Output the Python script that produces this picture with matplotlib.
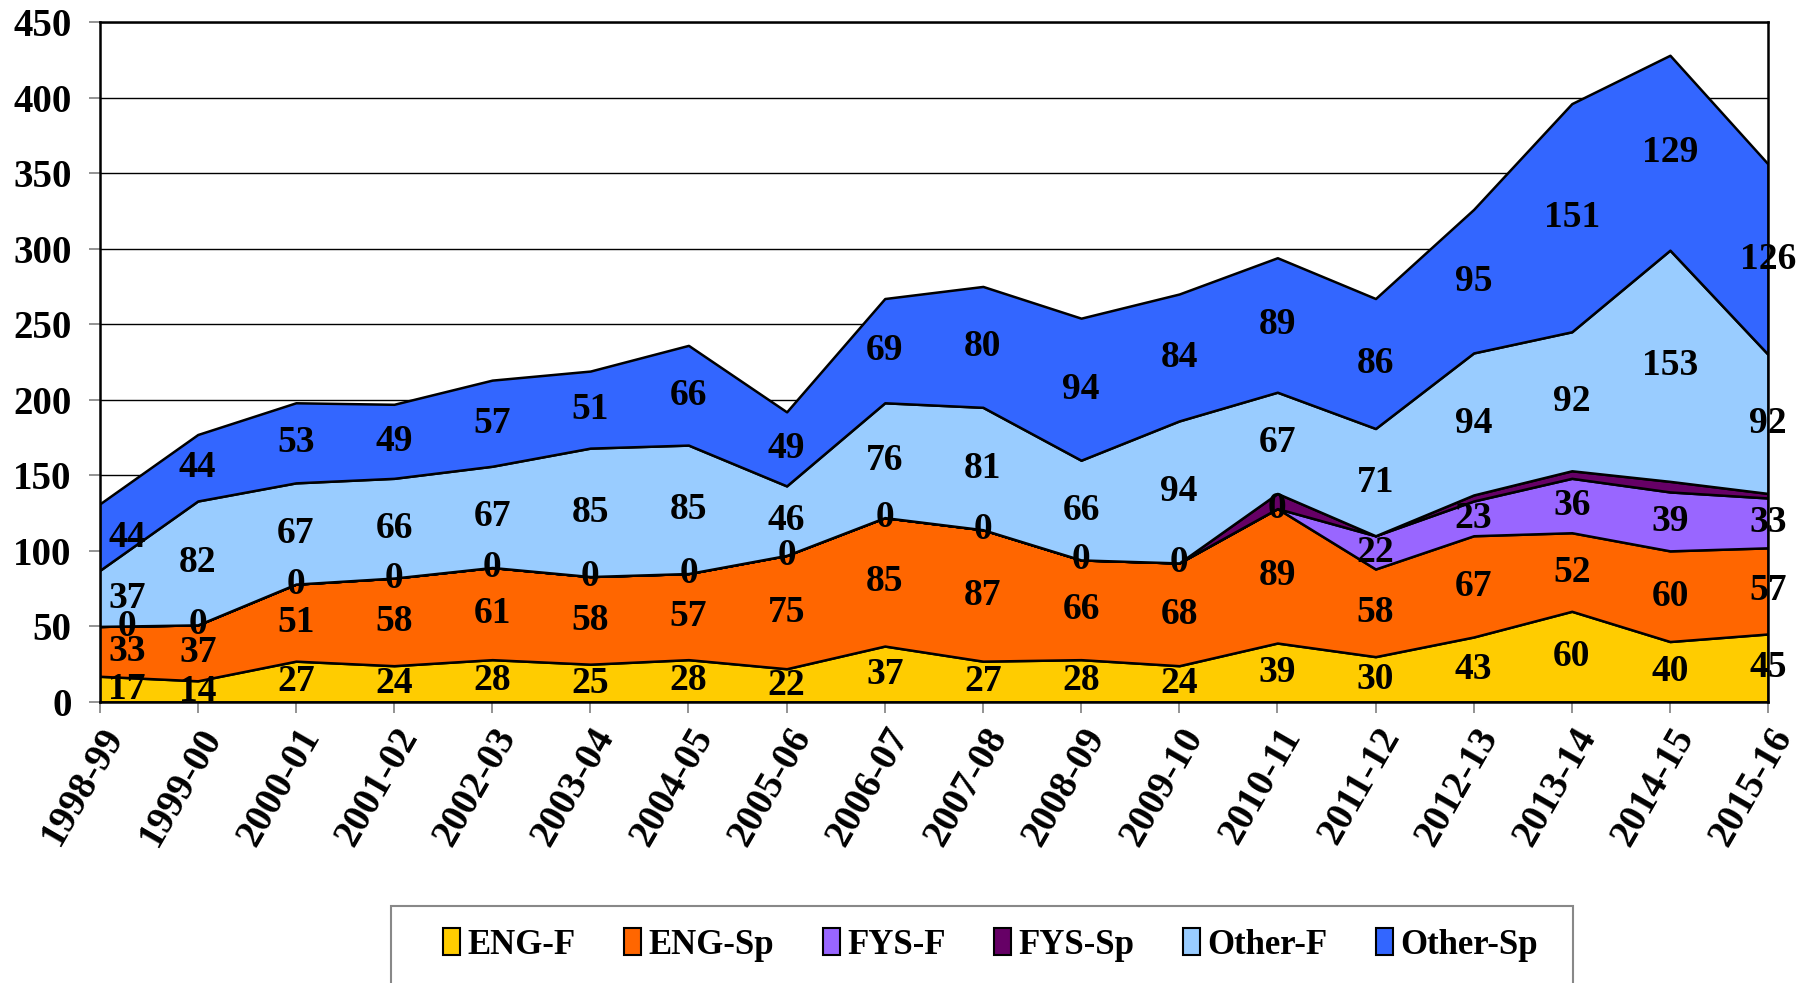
import matplotlib
matplotlib.use("Agg")
import matplotlib.pyplot as plt
from matplotlib.patches import Rectangle, Patch
import numpy as np

years = ["1998-99", "1999-00", "2000-01", "2001-02", "2002-03", "2003-04", "2004-05",
         "2005-06", "2006-07", "2007-08", "2008-09", "2009-10", "2010-11", "2011-12",
         "2012-13", "2013-14", "2014-15", "2015-16"]
eng_f = [17, 14, 27, 24, 28, 25, 28, 22, 37, 27, 28, 24, 39, 30, 43, 60, 40, 45]
eng_sp = [33, 37, 51, 58, 61, 58, 57, 75, 85, 87, 66, 68, 89, 58, 67, 52, 60, 57]
fys_f = [0, 0, 0, 0, 0, 0, 0, 0, 0, 0, 0, 0, 0, 22, 23, 36, 39, 33]
fys_sp = [0, 0, 0, 0, 0, 0, 0, 0, 0, 0, 0, 0, 10, 0, 4, 5, 7, 3]
other_f = [37, 82, 67, 66, 67, 85, 85, 46, 76, 81, 66, 94, 67, 71, 94, 92, 153, 92]
other_sp = [44, 44, 53, 49, 57, 51, 66, 49, 69, 80, 94, 84, 89, 86, 95, 151, 129, 126]

series_names = ["ENG-F", "ENG-Sp", "FYS-F", "FYS-Sp", "Other-F", "Other-Sp"]
colors = ["#FFCC00", "#FF6600", "#9966FF", "#660066", "#99CCFF", "#3366FF"]
show_labels = [True, True, True, False, True, True]

plt.rcParams['font.family'] = ['Liberation Serif', 'DejaVu Serif']
plt.rcParams['font.weight'] = 'bold'

fig = plt.figure(figsize=(18.14, 9.83), dpi=100)
ax = fig.add_axes([0.0549, 0.2859, 0.9198, 0.6917])

data = [eng_f, eng_sp, fys_f, fys_sp, other_f, other_sp]
x = np.arange(len(years))
ax.stackplot(x, *data, colors=colors, edgecolor='black', linewidth=1.8, zorder=2)

ax.set_ylim(0, 450)
ax.set_xlim(0, len(years) - 1)
ax.set_yticks(range(0, 451, 50))
ax.yaxis.grid(True, color='black', linewidth=1.0, zorder=1)
ax.set_axisbelow(True)
ax.set_xticks(x)
ax.set_xticklabels(years, rotation=60, ha='right', rotation_mode='anchor', fontsize=28, fontweight='bold')
for lab in ax.get_yticklabels():
    lab.set_fontsize(28)
    lab.set_fontweight('bold')
ax.tick_params(axis='x', length=8, width=1.2, color='gray', pad=6, direction='out')
ax.tick_params(axis='y', length=8, width=1.2, color='gray', pad=12, direction='out')
for s in ax.spines.values():
    s.set_linewidth(1.8)
    s.set_color('black')

cum = np.zeros(len(years))
for vals, show in zip(data, show_labels):
    vals = np.array(vals, dtype=float)
    mid = cum + vals / 2
    if show:
        for i in range(len(years)):
            xpos = x[i] + (0.28 if i == 0 else 0.0)
            ax.text(xpos, mid[i], str(int(vals[i])), ha='center', va='center',
                    fontsize=27, fontweight='bold', color='black', zorder=5, clip_on=False)
    cum = cum + vals

rect = Rectangle((0.2155, -0.05), 0.6515, 0.128, transform=fig.transFigure,
                 facecolor='white', edgecolor='#888888', linewidth=1.5, zorder=0)
fig.patches.append(rect)
handles = [Patch(facecolor=c, edgecolor='black', linewidth=1.5) for c in colors]
leg = fig.legend(handles, series_names, loc='center', bbox_to_anchor=(0.546, 0.0387),
                 ncol=6, frameon=False, handlelength=0.5, handleheight=0.8,
                 handletextpad=0.2, columnspacing=1.4,
                 prop={'family': 'Liberation Serif', 'weight': 'bold', 'size': 25})

fig.savefig("out.png", dpi=100)
